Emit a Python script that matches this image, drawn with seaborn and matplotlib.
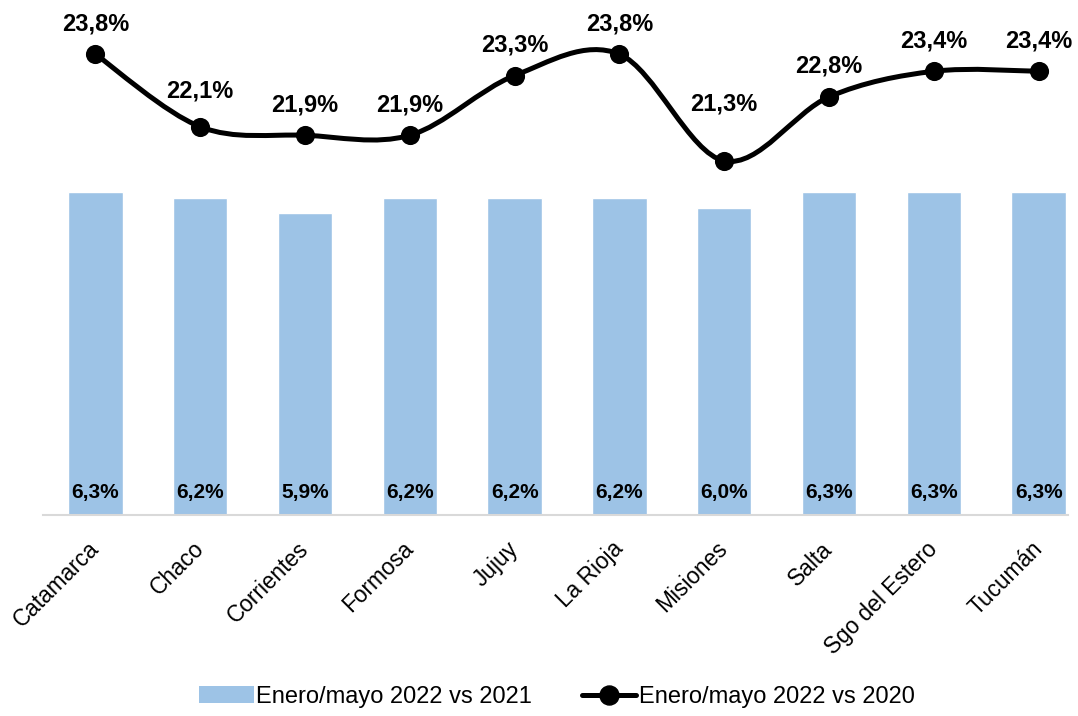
import numpy as np
import pandas as pd
import matplotlib
matplotlib.use("Agg")
import matplotlib.pyplot as plt
import seaborn as sns
from matplotlib.path import Path
from matplotlib.patches import PathPatch, Patch
from matplotlib.lines import Line2D

# Datos
provincias = ["Catamarca", "Chaco", "Corrientes", "Formosa", "Jujuy",
              "La Rioja", "Misiones", "Salta", "Sgo del Estero", "Tucumán"]
var_2022_vs_2021 = [6.3, 6.2, 5.9, 6.2, 6.2, 6.2, 6.0, 6.3, 6.3, 6.3]
var_2022_vs_2020 = [23.8, 22.1, 21.9, 21.9, 23.3, 23.8, 21.3, 22.8, 23.4, 23.4]
serie_barras = "Enero/mayo 2022 vs 2021"
serie_linea = "Enero/mayo 2022 vs 2020"

COLOR_BAR = "#9DC3E6"

sns.set_style("white")
plt.rcParams["font.family"] = ["Liberation Sans", "DejaVu Sans"]
plt.rcParams["text.color"] = "black"
plt.rcParams["xtick.color"] = "black"
plt.rcParams["xtick.labelcolor"] = "black"

df = pd.DataFrame({"provincia": provincias,
                   "v2021": var_2022_vs_2021,
                   "v2020": var_2022_vs_2020})


def fmt(v):
    return f"{v:.1f}".replace(".", ",") + "%"


fig = plt.figure(figsize=(10.78, 7.16), dpi=100)
ax = fig.add_axes([43 / 1078, 201 / 716, (1068 - 43) / 1078, 512 / 716])

sns.barplot(data=df, x="provincia", y="v2021", color=COLOR_BAR, saturation=1,
            width=0.52, ax=ax)
ax.set_xlim(-0.5, 9.28)
ax.set_ylim(0, 10)
ax.set_xlabel("")
ax.set_ylabel("")
ax.set_yticks([])
ax.set_xticks(range(len(provincias)))
ax.set_xticklabels(provincias, rotation=45, ha="right", va="center",
                   rotation_mode="anchor", fontsize=16.3, color="black")
ax.tick_params(axis="x", length=0, pad=22)
sns.despine(ax=ax, left=True)
ax.spines["bottom"].set_color("#D9D9D9")
ax.spines["bottom"].set_linewidth(1.5)

# etiquetas de barras
for i, v in enumerate(df["v2021"]):
    ax.annotate(fmt(v), (i, 0), xytext=(0, 16.5), textcoords="offset points",
                ha="center", va="center", fontsize=15, fontweight="bold",
                color="black")

# serie en eje secundario, línea suavizada
ax2 = ax.twinx()
ax2.set_ylim(13, 25)
ax2.set_yticks([])
for s in ax2.spines.values():
    s.set_visible(False)

pts = np.column_stack([np.arange(len(provincias)), df["v2020"].to_numpy()])
ext = np.vstack([pts[0], pts, pts[-1]])
verts = [tuple(pts[0])]
codes = [Path.MOVETO]
for k in range(len(pts) - 1):
    p0, p1, p2, p3 = ext[k], ext[k + 1], ext[k + 2], ext[k + 3]
    c1 = p1 + (p2 - p0) / 6
    c2 = p2 - (p3 - p1) / 6
    verts += [tuple(c1), tuple(c2), tuple(p2)]
    codes += [Path.CURVE4] * 3
ax2.add_patch(PathPatch(Path(verts, codes), fill=False, edgecolor="black",
                        linewidth=3.6, capstyle="round", joinstyle="round", zorder=3))
sns.scatterplot(x=np.arange(len(provincias)), y=df["v2020"], ax=ax2, color="black",
                s=190, linewidth=0, zorder=4, legend=False)
ax2.set_ylabel("")

# desplazamiento vertical de las etiquetas (pt)
nudges = {"Chaco": 26, "Misiones": 41}
for i, (p, v) in enumerate(zip(provincias, df["v2020"])):
    ax2.annotate(fmt(v), (i, v), xytext=(0, nudges.get(p, 22)),
                 textcoords="offset points", ha="center", va="center",
                 fontsize=17, fontweight="bold", color="black")

handles = [Patch(facecolor=COLOR_BAR, edgecolor="none", label=serie_barras),
           Line2D([0], [0], color="black", linewidth=3.6, marker="o",
                  markersize=13.7, label=serie_linea)]
fig.legend(handles=handles, loc="center", bbox_to_anchor=(0.5 + 18 / 1078, 19 / 716),
           ncol=2, frameon=False, fontsize=17, handlelength=2.3, handletextpad=0.12,
           columnspacing=2.1, labelcolor="black")

fig.savefig("out.png", dpi=100)
